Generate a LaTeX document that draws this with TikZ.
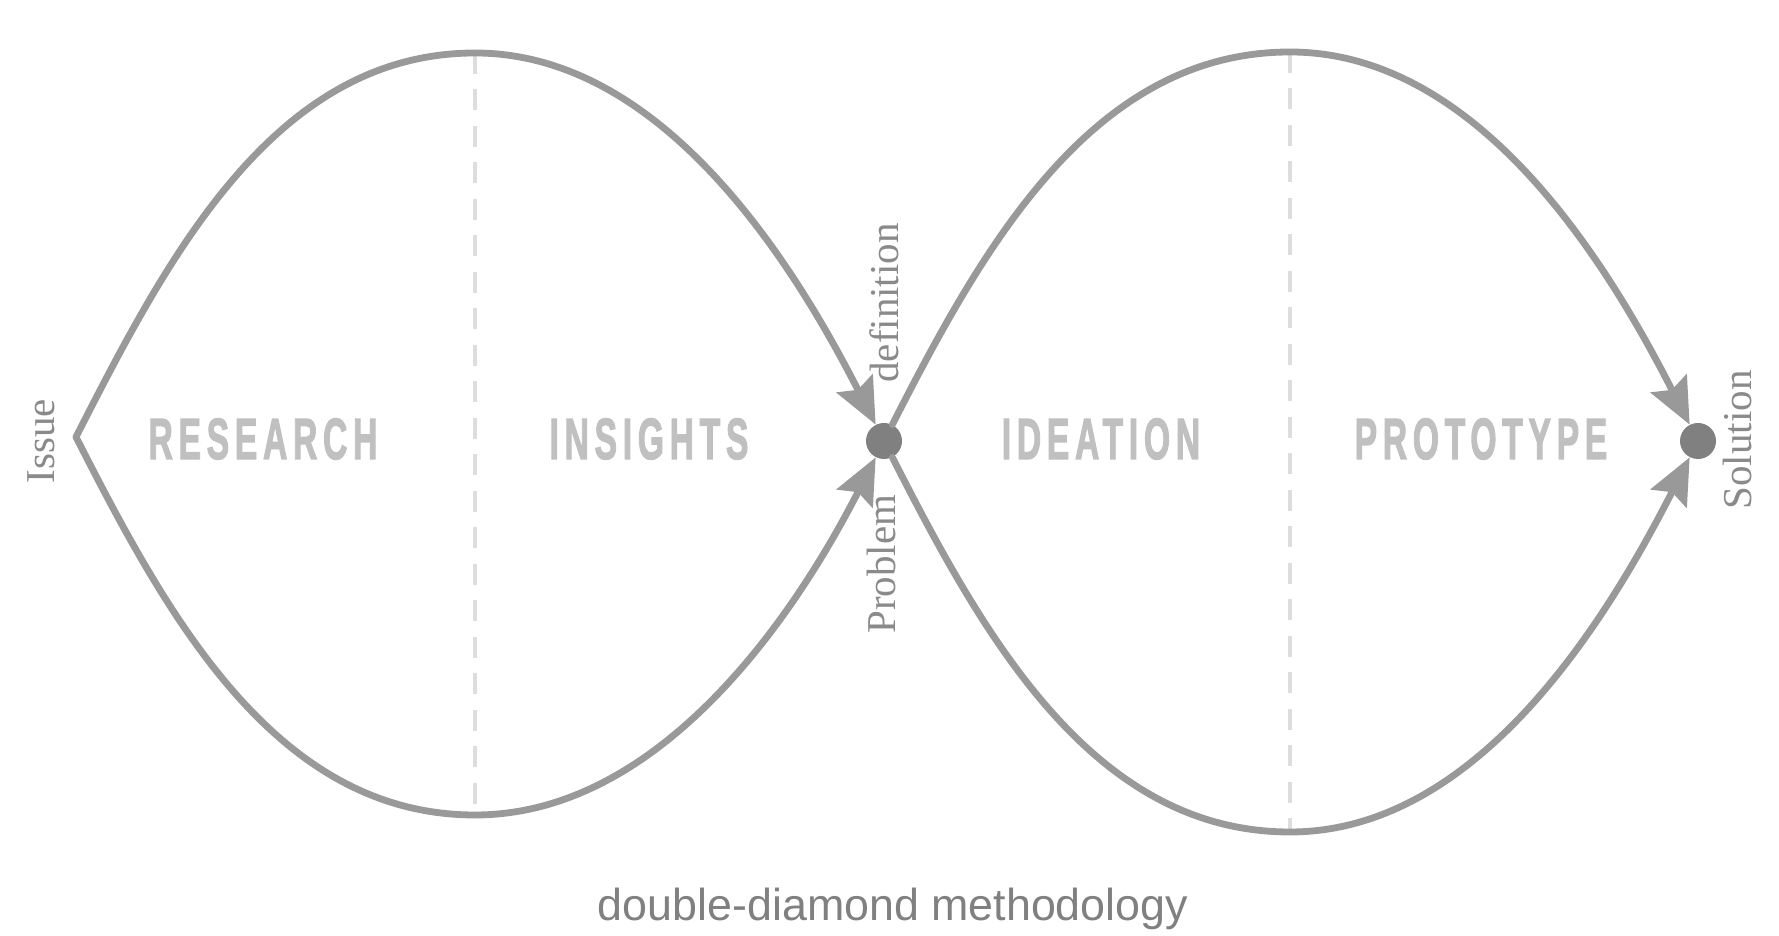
\documentclass[tikz,border=0pt]{standalone}
\usepackage{fontspec}
\usepackage{graphicx}
\setmainfont{Liberation Serif}
\newfontfamily\phasefont[LetterSpace=17,FakeBold=2.5]{Liberation Sans}
\newfontfamily\capfont{Liberation Sans}
\usetikzlibrary{arrows.meta}
\definecolor{linegray}{HTML}{999999}
\definecolor{dotgray}{HTML}{808080}
\definecolor{phasegray}{HTML}{C0C0C0}
\definecolor{labelgray}{HTML}{8A8A8A}
\definecolor{dashgray}{HTML}{DDDDDD}
\definecolor{capgray}{HTML}{808080}
\newcommand\squeeze[1]{\scalebox{0.58}[1]{#1}}
\begin{document}
\begin{tikzpicture}[x=0.5pt,y=0.5pt,
  flow/.style={draw=linegray,line width=3.4pt,line cap=round},
  tipped/.style={-{Stealth[length=23pt,width=20pt,inset=3.5pt]}},
  divider/.style={draw=dashgray,line width=1.75pt,dash pattern=on 10.5pt off 7.75pt},
  dot/.style={circle,fill=dotgray,minimum size=18pt,inner sep=0pt},
  phase/.style={text=phasegray,font=\phasefont\bfseries\fontsize{29pt}{29pt}\selectfont,inner sep=0pt},
  lbl/.style={text=labelgray,font=\fontsize{20.5pt}{20.5pt}\selectfont,rotate=90,inner sep=0pt},
  captext/.style={text=capgray,font=\capfont\fontsize{22.4pt}{24pt}\selectfont,inner sep=0pt}
]
\fill[white] (0,0) rectangle (1779,936);
\useasboundingbox (0,0) rectangle (1779,936);

\coordinate (I) at (76,499);
\coordinate (T1) at (475,883);
\coordinate (B1) at (475,121);
\coordinate (T2) at (1290,884);
\coordinate (B2) at (1290,104);
\node[dot] (M) at (884,495) {};
\node[dot] (S) at (1698,495) {};

\draw[divider] (T1) -- (B1);
\draw[divider] (T2) -- (B2);

\draw[flow,tipped] (I) to[out=63,in=180,looseness=0.93] (T1) to[out=0,in=117,looseness=0.87] (M);
\draw[flow,tipped] (I) to[out=-63,in=180,looseness=0.93] (B1) to[out=0,in=-117,looseness=0.87] (M);
\draw[flow,tipped] (M) to[out=63,in=180,looseness=0.93] (T2) to[out=0,in=117,looseness=0.87] (S);
\draw[flow,tipped] (M) to[out=-63,in=180,looseness=0.93] (B2) to[out=0,in=-117,looseness=0.87] (S);

\node[phase] (research) at (263,497) {\squeeze{RESEARCH}};
\node[phase] (insights) at (649,497) {\squeeze{INSIGHTS}};
\node[phase] (ideation) at (1101,497) {\squeeze{IDEATION}};
\node[phase] (prototype) at (1481,497) {\squeeze{PROTOTYPE}};

\node[lbl] (issue) at (41.5,495) {Issue};
\node[lbl] (definition) at (884,633) {definition};
\node[lbl] (problem) at (881,372) {Problem};
\node[lbl] (solution) at (1737,496) {Solution};

\node[captext,anchor=base] (caption) at (893,15) {double-diamond methodology};
\end{tikzpicture}
\end{document}
